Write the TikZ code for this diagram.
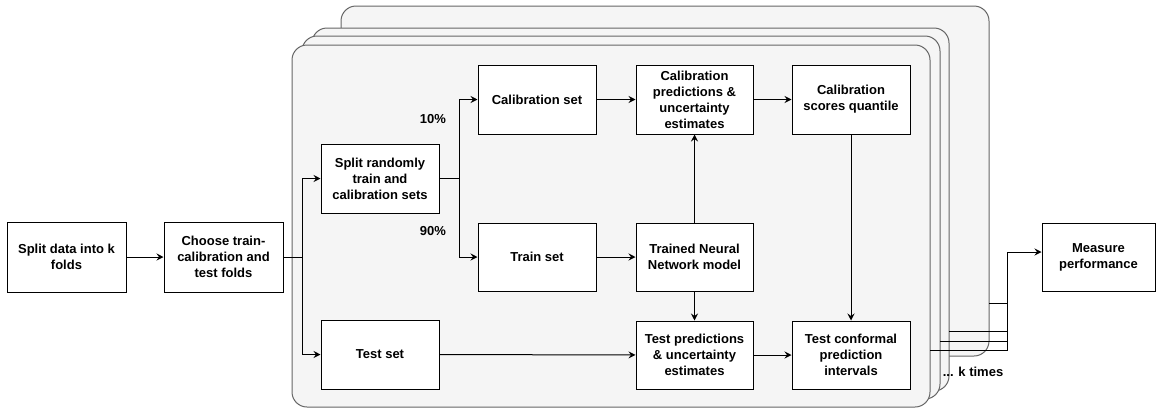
\documentclass[tikz,border=0pt]{standalone}
\usepackage{fontspec}
\setmainfont{Liberation Sans}
\usetikzlibrary{arrows.meta,calc}
\definecolor{panelfill}{HTML}{F5F5F5}
\definecolor{paneldraw}{HTML}{666666}
\tikzset{
  box/.style={draw=black, fill=white, line width=1pt, align=center, inner sep=0pt,
    font=\fontsize{13}{16}\selectfont\bfseries},
  panel/.style={draw=paneldraw, fill=panelfill, line width=1pt, rounded corners=15pt},
  conn/.style={draw=black, line width=1pt},
  arr/.style={conn, -{Stealth[length=7pt,width=7pt,inset=2.5pt]}},
  lbl/.style={font=\fontsize{13}{16}\selectfont\bfseries, inner sep=0pt}
}
\begin{document}
\begin{tikzpicture}[x=1pt,y=-1pt]
\useasboundingbox (0,0) rectangle (1157,408);
% stacked panels
\draw[panel] (341,6) rectangle (989,356);
\draw[panel] (312,28) rectangle (949,391);
\draw[panel] (302,36) rectangle (940,399);
\draw[panel] (292,45) rectangle (930,407);

% outer nodes
\node[box, minimum width=119pt, minimum height=70pt] (splitk) at (66.5,257) {Split data into k\\folds};
\node[box, minimum width=119pt, minimum height=70pt] (choose) at (223.5,257) {Choose train-\\calibration and\\test folds};
\node[box, minimum width=113pt, minimum height=68pt] (measure) at (1098.5,257) {Measure\\performance};

% inner nodes
\node[box, minimum width=118pt, minimum height=69pt] (splitr) at (380,178.5) {Split randomly\\train and\\calibration sets};
\node[box, minimum width=118pt, minimum height=69pt] (testset) at (380,354.5) {Test set};
\node[box, minimum width=118pt, minimum height=69pt] (calset) at (537,99.5) {Calibration set};
\node[box, minimum width=118pt, minimum height=68pt] (trainset) at (537,257) {Train set};
\node[box, minimum width=117pt, minimum height=69pt] (calpred) at (694.5,99.5) {Calibration\\predictions \&\\uncertainty\\estimates};
\node[box, minimum width=118pt, minimum height=69pt] (calq) at (851,99.5) {Calibration\\scores quantile};
\node[box, minimum width=117pt, minimum height=68pt] (trained) at (694.5,257) {Trained Neural\\Network model};
\node[box, minimum width=117pt, minimum height=68pt] (testpred) at (694.5,355) {Test predictions\\\& uncertainty\\estimates};
\node[box, minimum width=118pt, minimum height=68pt] (testconf) at (851,355) {Test conformal\\prediction\\intervals};

% labels
\node[lbl] (p10) at (433,119) {10\%};
\node[lbl] (p90) at (433,231) {90\%};
\node[lbl] (ktimes) at (973,372) {... k times};

% junction coordinates
\coordinate (j1) at (302,257);
\coordinate (j2) at (459,178.5);
\coordinate (jm) at (1007,252);
\coordinate (e0) at (930,350);
\coordinate (e1) at (940,341);
\coordinate (e2) at (949,331);
\coordinate (e3) at (989,303);

% connectors
\draw[arr] (splitk) -- (choose);
\draw[conn] (choose) -- (j1);
\draw[arr] (j1) |- (splitr);
\draw[arr] (j1) |- (testset);
\draw[conn] (splitr) -- (j2);
\draw[arr] (j2) |- (calset);
\draw[arr] (j2) |- (trainset);
\draw[arr] (calset) -- (calpred);
\draw[arr] (calpred) -- (calq);
\draw[arr] (trainset) -- (trained);
\draw[arr] (trained) -- (calpred);
\draw[arr] (trained) -- (testpred);
\draw[arr] (testset) -- (testpred);
\draw[arr] (testpred) -- (testconf);
\draw[arr] (calq) -- (testconf);

\draw[conn] (e0) -| (jm);
\draw[conn] (e1) -| (jm);
\draw[conn] (e2) -| (jm);
\draw[conn] (e3) -| (jm);
\draw[arr] (jm) -- (measure.west |- jm);
\end{tikzpicture}
\end{document}
